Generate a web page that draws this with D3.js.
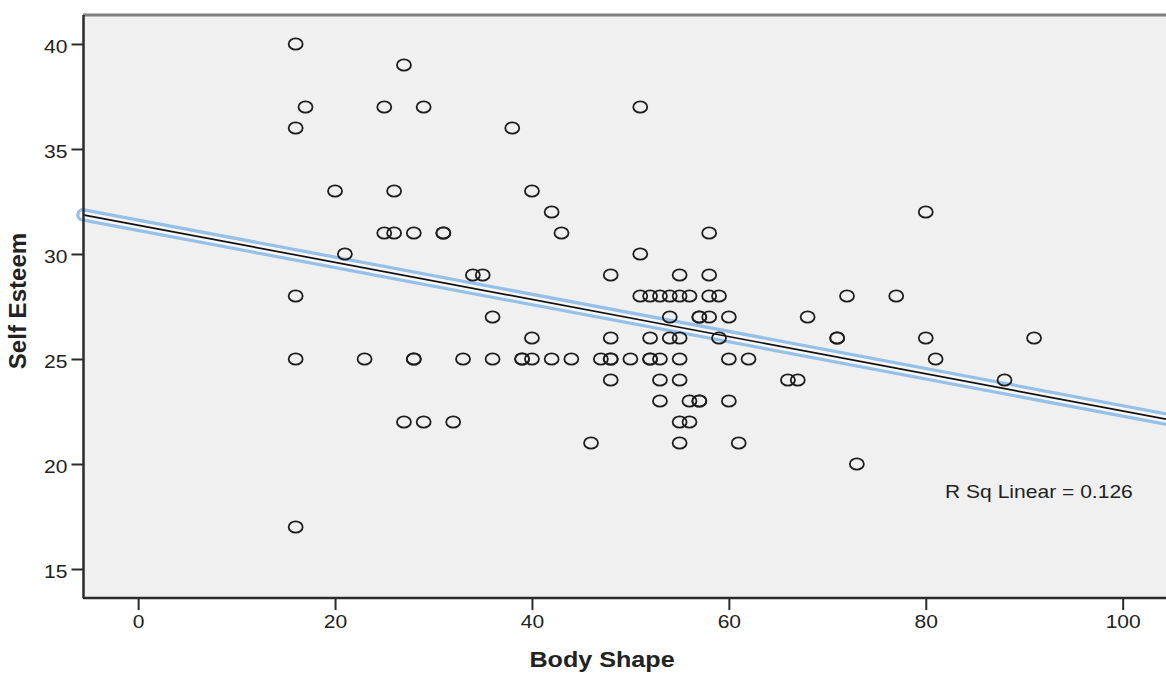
<!DOCTYPE html>
<html>
<head>
<meta charset="utf-8">
<script src="https://cdn.jsdelivr.net/npm/d3@7"></script>
<style>
  html, body { margin: 0; padding: 0; background: #ffffff; }
  svg { display: block; }
  text { font-family: Arial, "Liberation Sans", sans-serif; fill: #222; }
</style>
</head>
<body>
<svg id="chart" width="1166" height="675"></svg>
<script>
// ---- data ----
const bodyShape = [
  16,
  27,
  17, 25, 29, 51,
  16, 38,
  20, 26, 40,
  42, 80,
  25, 26, 28, 31, 31, 43, 58,
  21, 51,
  34, 35, 48, 55, 58,
  16, 51, 52, 53, 54, 55, 56, 58, 59, 72, 77,
  36, 54, 57, 57, 58, 60, 68,
  40, 48, 52, 54, 55, 59, 71, 71, 80, 91,
  16, 23, 28, 28, 33, 36, 39, 39, 40, 42, 44, 47, 48, 48, 50, 52, 52, 53, 55, 60, 62, 81,
  48, 53, 55, 66, 67, 88,
  53, 56, 57, 57, 60,
  27, 29, 32, 55, 56,
  46, 55, 61,
  73,
  16
];
const selfEsteem = [
  40,
  39,
  37, 37, 37, 37,
  36, 36,
  33, 33, 33,
  32, 32,
  31, 31, 31, 31, 31, 31, 31,
  30, 30,
  29, 29, 29, 29, 29,
  28, 28, 28, 28, 28, 28, 28, 28, 28, 28, 28,
  27, 27, 27, 27, 27, 27, 27,
  26, 26, 26, 26, 26, 26, 26, 26, 26, 26,
  25, 25, 25, 25, 25, 25, 25, 25, 25, 25, 25, 25, 25, 25, 25, 25, 25, 25, 25, 25, 25, 25,
  24, 24, 24, 24, 24, 24,
  23, 23, 23, 23, 23,
  22, 22, 22, 22, 22,
  21, 21, 21,
  20,
  17
];
const fitIntercept = 31.37;
const fitSlope = -0.0884;
const rSqLabel = "R Sq Linear = 0.126";
const xTicks = [0, 20, 40, 60, 80, 100];
const yTicks = [15, 20, 25, 30, 35, 40];
const xTitle = "Body Shape";
const yTitle = "Self Esteem";

// ---- layout ----
const svg = d3.select("#chart");
const L = 83, R = 1166, T = 15, B = 598;
const stretch = 1.17;

const x = d3.scaleLinear().domain([-5.6, 104.4]).range([L, R]);
const y = d3.scaleLinear().domain([13.62, 41.38]).range([B, T]);

// plot background
svg.append("rect")
  .attr("x", L).attr("y", T)
  .attr("width", R - L).attr("height", B - T)
  .attr("fill", "#f0f0f0");

// top frame line
svg.append("line")
  .attr("x1", L).attr("x2", R).attr("y1", T).attr("y2", T)
  .attr("stroke", "#808080").attr("stroke-width", 3);

// regression line (SPSS selected style: blue outline, light inner, black core)
const xd = x.domain();
const fitPts = xd.map(v => [v, fitIntercept + fitSlope * v]);
const lineGen = d3.line().x(d => x(d[0])).y(d => y(d[1]));
svg.append("path").attr("d", lineGen(fitPts))
  .attr("fill", "none").attr("stroke", "#96c0e8").attr("stroke-width", 13.5)
  .attr("stroke-linecap", "round");
svg.append("path").attr("d", lineGen(fitPts))
  .attr("fill", "none").attr("stroke", "#f6f6f6").attr("stroke-width", 7)
  .attr("stroke-linecap", "round");
svg.append("path").attr("d", lineGen(fitPts))
  .attr("fill", "none").attr("stroke", "#111").attr("stroke-width", 1.7);

// points
const pts = bodyShape.map((v, i) => ({ bx: v, se: selfEsteem[i] }));
svg.append("g").selectAll("ellipse").data(pts).join("ellipse")
  .attr("cx", d => x(d.bx))
  .attr("cy", d => y(d.se))
  .attr("rx", 7).attr("ry", 5.6)
  .attr("fill", "none")
  .attr("stroke", "#1e1e1e")
  .attr("stroke-width", 1.8);

// axes
const yAxis = svg.append("g")
  .attr("transform", `translate(${L + 0.5},0)`)
  .call(d3.axisLeft(y).tickValues(yTicks).tickSize(12).tickSizeOuter(0));
const xAxis = svg.append("g")
  .attr("transform", `translate(0,${B})`)
  .call(d3.axisBottom(x).tickValues(xTicks).tickSize(12).tickSizeOuter(0));

[yAxis, xAxis].forEach(g => {
  g.select(".domain").attr("stroke", "#2b2b2b").attr("stroke-width", 2.5);
  g.selectAll(".tick line").attr("stroke", "#2b2b2b").attr("stroke-width", 2);
  g.selectAll(".tick text")
    .attr("font-size", 18)
    .attr("font-family", "Arial, 'Liberation Sans', sans-serif")
    .attr("fill", "#222");
});
yAxis.select(".domain").attr("d", `M0,${T}V${B}`);
xAxis.select(".domain").attr("d", `M${L},0H${R}`);

yAxis.selectAll(".tick text")
  .attr("x", -16 / stretch)
  .attr("dy", "0.45em")
  .attr("transform", `scale(${stretch},1)`);
xAxis.selectAll(".tick text")
  .attr("y", 17)
  .attr("dy", "0.71em")
  .attr("transform", `scale(${stretch},1)`);

// R square annotation
svg.append("text")
  .attr("transform", `translate(945,498) scale(${stretch},1)`)
  .attr("font-size", 18)
  .text(rSqLabel);

// axis titles
svg.append("text")
  .attr("transform", `translate(602,667) scale(${stretch},1)`)
  .attr("text-anchor", "middle")
  .attr("font-size", 21.5)
  .attr("font-weight", "bold")
  .text(xTitle);

svg.append("text")
  .attr("transform", `translate(26,301) rotate(-90) scale(1.12,1.1)`)
  .attr("text-anchor", "middle")
  .attr("font-size", 21.5)
  .attr("font-weight", "bold")
  .text(yTitle);
</script>
</body>
</html>
